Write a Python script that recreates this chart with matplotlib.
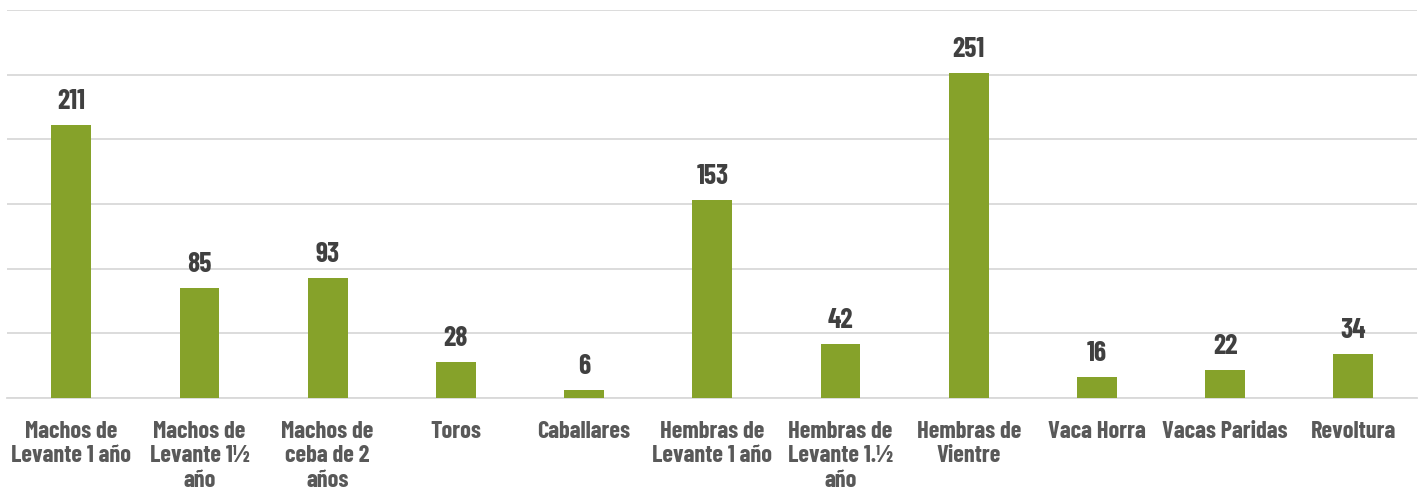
import matplotlib.pyplot as plt
from matplotlib import font_manager

categories = [
    "Machos de\nLevante 1 año",
    "Machos de\nLevante 1½\naño",
    "Machos de\nceba de 2\naños",
    "Toros",
    "Caballares",
    "Hembras de\nLevante 1 año",
    "Hembras de\nLevante 1.½\naño",
    "Hembras de\nVientre",
    "Vaca Horra",
    "Vacas Paridas",
    "Revoltura",
]
values = [211, 85, 93, 28, 6, 153, 42, 251, 16, 22, 34]

installed = {f.name for f in font_manager.fontManager.ttflist}
wanted = ["Barlow Condensed", "Roboto Condensed", "Archivo Narrow", "Liberation Sans Narrow"]
family = [n for n in wanted if n in installed][:1] + ["DejaVu Sans"]
plt.rcParams["font.family"] = family
size = 17.5 if family[0] != "DejaVu Sans" else 11


def main():
    fig = plt.figure(figsize=(14.26, 5), dpi=100)
    ax = fig.add_axes([0.005, 0.204, 0.989, 0.776])

    x = range(len(categories))
    bars = ax.bar(x, values, width=0.31, color="#86A22A", zorder=3)

    for bar, v in zip(bars, values):
        ax.text(bar.get_x() + bar.get_width() / 2, v + 8.5, str(v),
                ha="center", va="bottom", fontsize=size + 2.5, fontweight="bold",
                color="#404040")

    ax.set_ylim(0, 300)
    ax.set_xlim(-0.5, len(categories) - 0.5)
    ax.set_yticks(range(0, 301, 50))
    ax.yaxis.grid(True, color="#D9D9D9", linewidth=1.3, zorder=0)
    ax.tick_params(axis="y", left=False, labelleft=False)
    ax.tick_params(axis="x", bottom=False, pad=13)
    ax.set_xticks(list(x))
    ax.set_xticklabels(categories, fontsize=size, fontweight="bold",
                       color="#595959", linespacing=1.15, va="top")
    for s in ["top", "right", "left"]:
        ax.spines[s].set_visible(False)
    ax.spines["bottom"].set_color("#D9D9D9")
    ax.spines["bottom"].set_linewidth(1.3)

    fig.savefig("out.png", dpi=100)


if __name__ == "__main__":
    main()
